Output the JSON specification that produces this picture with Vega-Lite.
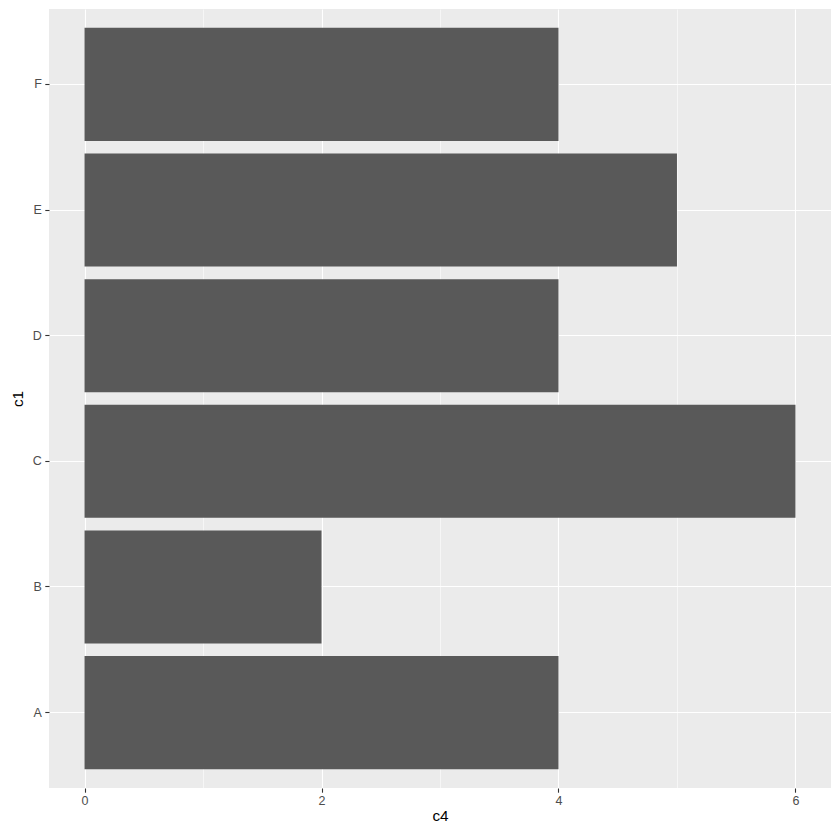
{
  "$schema": "https://vega.github.io/schema/vega-lite/v6.json",
  "width": 782,
  "height": 779,
  "autosize": "none",
  "padding": {"left": 49, "top": 9, "right": 9, "bottom": 52},
  "background": "white",
  "data": {"values": [
    {"c1": "A", "c4": 4},
    {"c1": "B", "c4": 2},
    {"c1": "C", "c4": 6},
    {"c1": "D", "c4": 4},
    {"c1": "E", "c4": 5},
    {"c1": "F", "c4": 4}
  ]},
  "mark": {"type": "bar", "color": "#595959"},
  "encoding": {
    "y": {
      "field": "c1", "type": "nominal", "sort": "descending",
      "scale": {"paddingInner": 0.1, "paddingOuter": 0.15},
      "axis": {
        "title": "c1", "titleFont": "Liberation Sans", "titleFontSize": 15.3, "titleFontWeight": "normal", "titleColor": "#000000", "titlePadding": 7,
        "labelFont": "Liberation Sans", "labelFontSize": 12.5, "labelColor": "#4D4D4D", "labelPadding": 3.5,
        "tickColor": "#333333", "tickSize": 4.2, "tickWidth": 1.1,
        "domain": false, "grid": true, "gridColor": "#FFFFFF", "gridWidth": 1.1, "bandPosition": 0.5
      }
    },
    "x": {
      "field": "c4", "type": "quantitative",
      "scale": {"domain": [-0.3, 6.3], "nice": false, "zero": false},
      "axis": {
        "title": "c4", "titleFont": "Liberation Sans", "titleFontSize": 15.3, "titleFontWeight": "normal", "titleColor": "#000000", "titlePadding": 1.5,
        "values": [0, 1, 2, 3, 4, 5, 6],
        "labelExpr": "datum.value % 2 === 0 ? datum.label : ''",
        "labelFont": "Liberation Sans", "labelFontSize": 12.5, "labelColor": "#4D4D4D", "labelPadding": 2,
        "tickColor": "#333333", "tickSize": 4.2, "tickWidth": 1.1,
        "tickOpacity": {"condition": {"test": "datum.value % 2 === 0", "value": 1}, "value": 0},
        "domain": false, "grid": true, "gridColor": "#FFFFFF",
        "gridWidth": {"condition": {"test": "datum.value % 2 === 0", "value": 1.1}, "value": 0.55}
      }
    }
  },
  "config": {
    "view": {"fill": "#EBEBEB", "stroke": null}
  }
}
